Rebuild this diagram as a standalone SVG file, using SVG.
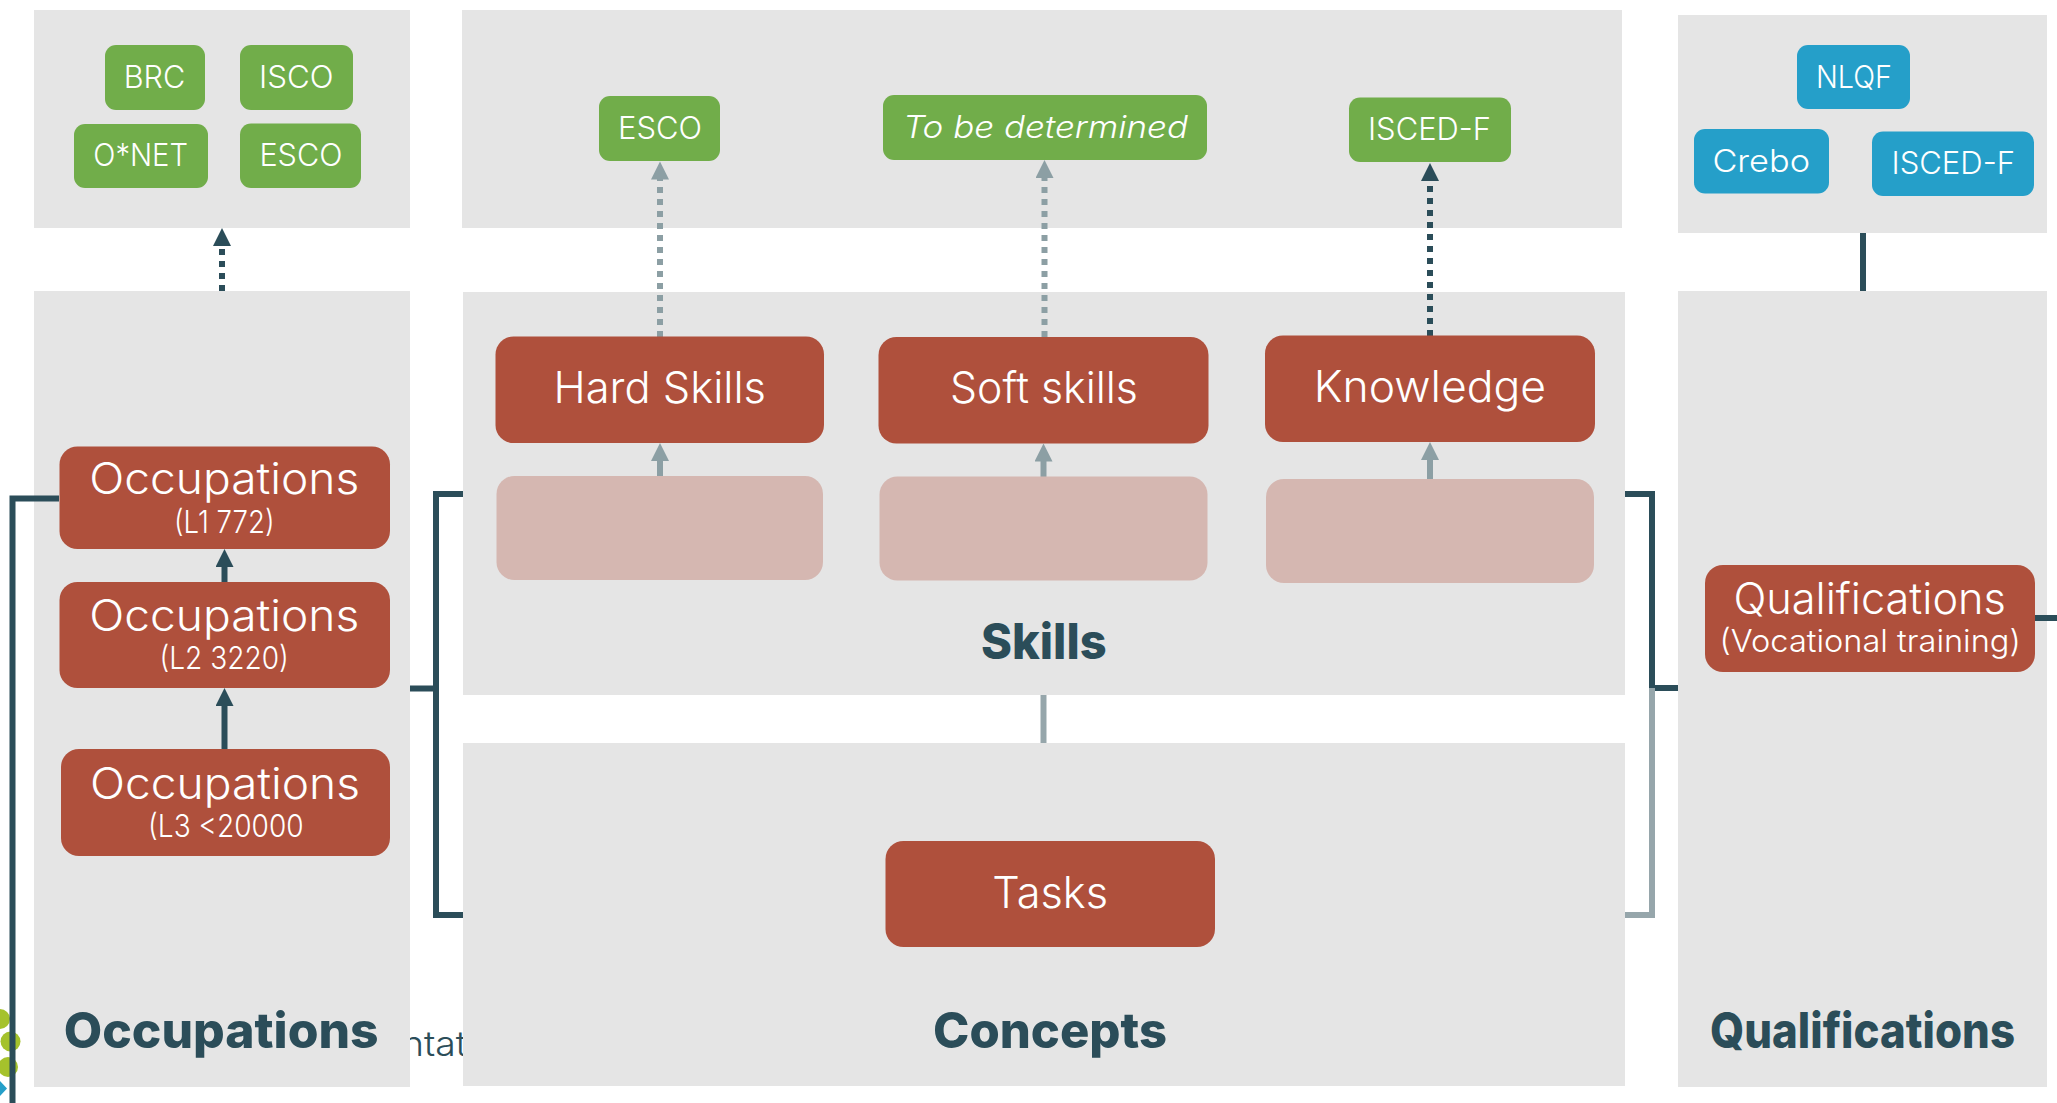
<svg xmlns="http://www.w3.org/2000/svg" width="2057" height="1103" viewBox="0 0 2057 1103">
<style>
text{font-family:"Inter","Noto Sans","Liberation Sans",sans-serif;fill:#fff;font-weight:350}
.panel{fill:#e5e5e5}
.red{fill:#af503c}.pink{fill:#d5b7b1}.green{fill:#71ad4a}.blue{fill:#259fc9}
.s{font-size:31px}.m{font-size:43px}.sub{font-size:31px}
text.h{font-size:49px;font-weight:800;fill:#2b4d59}
.c{fill:none;stroke-width:6}
.dk{stroke:#2b4d59}.gr{stroke:#96a6ab}.ga{stroke:#8c9fa4}
.d{stroke-dasharray:6 6}
</style>
<defs>
<marker id="ad" markerUnits="userSpaceOnUse" markerWidth="19" markerHeight="19" refX="9" refY="9" orient="auto"><path d="M0 0L18 9L0 18z" fill="#2b4d59"/></marker>
<marker id="ag" markerUnits="userSpaceOnUse" markerWidth="19" markerHeight="19" refX="9" refY="9" orient="auto"><path d="M0 0L18 9L0 18z" fill="#8c9fa4"/></marker>
</defs>
<g id="background-fragments">
<circle cx="0" cy="1019" r="10" fill="#a5c22c"/>
<circle cx="10.500" cy="1041.500" r="10" fill="#a5c22c"/>
<circle cx="8" cy="1067" r="10" fill="#a5c22c"/>
<path d="M-8 1088.500L0 1081L7 1088.500L0 1096z" fill="#259fc9"/>
<text x="402" y="1056" font-size="35" style="fill:#2b4d59;font-weight:300" textLength="65" lengthAdjust="spacingAndGlyphs">ntat</text>
</g>
<g id="panels">
<rect class="panel" x="34" y="10" width="376" height="218"/>
<rect class="panel" x="34" y="291" width="376" height="796"/>
<rect class="panel" x="462" y="10" width="1160" height="218"/>
<rect class="panel" x="463" y="292" width="1162" height="403"/>
<rect class="panel" x="463" y="743" width="1162" height="343"/>
<rect class="panel" x="1678" y="15" width="369" height="218"/>
<rect class="panel" x="1678" y="291" width="369" height="796"/>
</g>
<g id="connectors">
<path class="c dk" d="M59 498.500H12.500V1103"/>
<path class="c dk d" d="M222 291V237" marker-end="url(#ad)"/>
<path class="c dk" d="M463 494H436V915H463M410 688.500H436"/>
<path class="c dk" d="M1625 494H1652V688H1678"/>
<path class="c gr" d="M1652 688V915H1625"/>
<path class="c dk" d="M2035 618H2057"/>
<path class="c dk" d="M1863 233V291"/>
<path class="c gr" d="M1043.500 695V743"/>
<path class="c ga d" d="M660 337V170.500" marker-end="url(#ag)"/>
<path class="c ga d" d="M1044.500 337V169" marker-end="url(#ag)"/>
<path class="c dk d" d="M1430 336V172" marker-end="url(#ad)"/>
<path class="c ga" d="M660 476V452" marker-end="url(#ag)"/>
<path class="c ga" d="M1043.500 477V452.500" marker-end="url(#ag)"/>
<path class="c ga" d="M1430 479V451" marker-end="url(#ag)"/>
<path class="c dk" d="M224.500 582V558" marker-end="url(#ad)"/>
<path class="c dk" d="M224.500 749V697" marker-end="url(#ad)"/>
</g>
<g id="src-brc"><rect class="green" x="105" y="45" width="100" height="65" rx="11"/><text class="s" x="123.700" y="87.500" textLength="61.500" lengthAdjust="spacingAndGlyphs">BRC</text></g>
<g id="src-isco"><rect class="green" x="240" y="45" width="113" height="65" rx="11"/><text class="s" x="259" y="87.500" textLength="74.500" lengthAdjust="spacingAndGlyphs">ISCO</text></g>
<g id="src-onet"><rect class="green" x="74" y="124" width="134" height="64" rx="11"/><text class="s" x="93.300" y="166.400" textLength="94.700" lengthAdjust="spacingAndGlyphs">O*NET</text></g>
<g id="src-esco"><rect class="green" x="240" y="123.500" width="121" height="64.500" rx="11"/><text class="s" x="259.400" y="165.700" textLength="83" lengthAdjust="spacingAndGlyphs">ESCO</text></g>
<g id="skill-esco"><rect class="green" x="599" y="96" width="121" height="65" rx="11"/><text class="s" x="618" y="138.600" textLength="84" lengthAdjust="spacingAndGlyphs">ESCO</text></g>
<g id="skill-tbd"><rect class="green" x="883" y="95" width="324" height="65" rx="11"/><text class="s" x="903" y="137.800" font-style="italic" textLength="285" lengthAdjust="spacingAndGlyphs">To be determined</text></g>
<g id="skill-isced"><rect class="green" x="1349" y="97.500" width="162" height="64.500" rx="11"/><text class="s" x="1368" y="139.700" textLength="123" lengthAdjust="spacingAndGlyphs">ISCED-F</text></g>
<g id="q-nlqf"><rect class="blue" x="1797" y="45" width="113" height="64" rx="11"/><text class="s" x="1816" y="87.900" textLength="76" lengthAdjust="spacingAndGlyphs">NLQF</text></g>
<g id="q-crebo"><rect class="blue" x="1694" y="129" width="135" height="64.500" rx="11"/><text class="s" x="1712.400" y="172" textLength="97.600" lengthAdjust="spacingAndGlyphs">Crebo</text></g>
<g id="q-isced"><rect class="blue" x="1872" y="131.500" width="162" height="64.500" rx="11"/><text class="s" x="1891.500" y="174" textLength="123.500" lengthAdjust="spacingAndGlyphs">ISCED-F</text></g>
<g id="occ-l1"><rect class="red" x="59.500" y="446.500" width="330.500" height="102.500" rx="18"/><text class="m" x="89.300" y="493.600" textLength="270" lengthAdjust="spacingAndGlyphs">Occupations</text><text class="sub" x="174" y="533" textLength="100.500" lengthAdjust="spacingAndGlyphs">(L1 772)</text></g>
<g id="occ-l2"><rect class="red" x="59.500" y="582" width="330.500" height="106" rx="18"/><text class="m" x="89.300" y="630.500" textLength="270" lengthAdjust="spacingAndGlyphs">Occupations</text><text class="sub" x="159.400" y="669.300" textLength="129.400" lengthAdjust="spacingAndGlyphs">(L2 3220)</text></g>
<g id="occ-l3"><rect class="red" x="61" y="749" width="329" height="107" rx="18"/><text class="m" x="90" y="798.500" textLength="270" lengthAdjust="spacingAndGlyphs">Occupations</text><text class="sub" x="148" y="837.300" textLength="155.600" lengthAdjust="spacingAndGlyphs">(L3 &lt;20000</text></g>
<g id="hard"><rect class="red" x="495.500" y="336.500" width="328.500" height="106.500" rx="18"/><text class="m" x="553.600" y="402.500" textLength="212.400" lengthAdjust="spacingAndGlyphs">Hard Skills</text></g>
<g id="soft"><rect class="red" x="878.500" y="337" width="330" height="106.500" rx="18"/><text class="m" x="950" y="403" textLength="187.800" lengthAdjust="spacingAndGlyphs">Soft skills</text></g>
<g id="know"><rect class="red" x="1265" y="335.500" width="330" height="106.500" rx="18"/><text class="m" x="1313.800" y="402" textLength="232.200" lengthAdjust="spacingAndGlyphs">Knowledge</text></g>
<g id="pink1"><rect class="pink" x="496.500" y="476" width="326.500" height="104" rx="18"/></g>
<g id="pink2"><rect class="pink" x="879.500" y="476.500" width="328" height="104" rx="18"/></g>
<g id="pink3"><rect class="pink" x="1266" y="479" width="328" height="104" rx="18"/></g>
<g id="tasks"><rect class="red" x="885.500" y="841" width="329.500" height="106" rx="18"/><text class="m" x="992.300" y="907.600" textLength="115.700" lengthAdjust="spacingAndGlyphs">Tasks</text></g>
<g id="qual"><rect class="red" x="1705" y="565" width="330" height="107" rx="18"/><text class="m" x="1733.400" y="613.600" textLength="272.600" lengthAdjust="spacingAndGlyphs">Qualifications</text><text class="sub" x="1719.500" y="651.700" textLength="301.300" lengthAdjust="spacingAndGlyphs">(Vocational training)</text></g>
<g id="titles">
<text class="h" x="63.800" y="1047.500" textLength="314.800" lengthAdjust="spacingAndGlyphs">Occupations</text>
<text class="h" x="981" y="658.700" textLength="125.600" lengthAdjust="spacingAndGlyphs">Skills</text>
<text class="h" x="933" y="1047.500" textLength="234" lengthAdjust="spacingAndGlyphs">Concepts</text>
<text class="h" x="1710" y="1048" textLength="305" lengthAdjust="spacingAndGlyphs">Qualifications</text>
</g>
</svg>
